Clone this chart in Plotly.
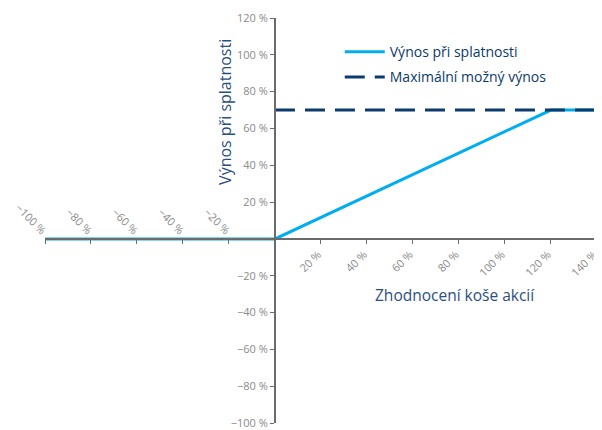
import plotly.graph_objects as go

# data
payoff_x = [-100, 0, 120, 140]
payoff_y = [0, 0, 70, 70]
cap_x = [0, 140]
cap_y = [70, 70]
x_range = [-100, 140.05]
y_range = [-100, 120]
x_pos_ticks = [20, 40, 60, 80, 100, 120, 140]
x_pos_labels = ["20 %", "40 %", "60 %", "80 %", "100 %", "120 %", "140 %"]
x_neg_ticks = [-100, -80, -60, -40, -20]
x_neg_labels = ["\u2212100 %", "\u221280 %", "\u221260 %", "\u221240 %", "\u221220 %"]
y_ticks = [-100, -80, -60, -40, -20, 20, 40, 60, 80, 100, 120]
y_labels = ["\u2212100 %", "\u221280 %", "\u221260 %", "\u221240 %", "\u221220 %",
            "20 %", "40 %", "60 %", "80 %", "100 %", "120 %"]

LIGHT = "#00AEEF"
DARK = "#0B3A6B"
TITLE = "#2B4F81"
GRAY = "#6b6b6b"
TICKFONT = dict(family="Open Sans", size=11, color="#8a8a8a")

fig = go.Figure()
fig.add_trace(go.Scatter(x=payoff_x, y=payoff_y, mode="lines", name="Výnos při splatnosti",
                         legendgroup="a",
                         line=dict(color=LIGHT, width=3)))
fig.add_trace(go.Scatter(x=cap_x, y=cap_y, mode="lines", name="Maximální možný výnos",
                         legendgroup="b",
                         line=dict(color=DARK, width=3, dash="20px,10px")))

x0_frac = (0 - x_range[0]) / (x_range[1] - x_range[0])
y0_frac = (0 - y_range[0]) / (y_range[1] - y_range[0])

fig.update_layout(
    width=594, height=422,
    margin=dict(l=37, r=5, t=10, b=7, autoexpand=False),
    plot_bgcolor="white", paper_bgcolor="white",
    font=dict(family="Open Sans", color=TITLE),
    showlegend=True,
    legend=dict(x=0.534, y=0.955, xanchor="left", yanchor="top",
                font=dict(size=14, color=DARK), bgcolor="rgba(0,0,0,0)",
                tracegroupgap=4, itemwidth=40),
    xaxis=dict(range=x_range, anchor="free", position=y0_frac, automargin=False,
               showgrid=False, zeroline=False, showline=True, linecolor=GRAY, linewidth=2,
               ticks="outside", ticklen=4, tickcolor=GRAY, tickwidth=1,
               tickvals=x_neg_ticks + x_pos_ticks,
               ticktext=[""] * len(x_neg_ticks) + x_pos_labels,
               tickangle=-45, tickfont=TICKFONT, ticklabeloverflow="allow",
               ticklabelshift=-3),
    xaxis2=dict(range=x_range, overlaying="x", anchor="free", position=y0_frac, side="top",
                automargin=False,
                showgrid=False, zeroline=False, showline=False, ticks="",
                tickvals=x_neg_ticks, ticktext=x_neg_labels,
                tickangle=45, tickfont=TICKFONT, ticklabeloverflow="allow"),
    yaxis=dict(range=y_range, anchor="free", position=x0_frac, automargin=False,
               showgrid=False, zeroline=False, showline=True, linecolor=GRAY, linewidth=2,
               ticks="outside", ticklen=4, tickcolor=GRAY, tickwidth=1,
               tickvals=y_ticks, ticktext=y_labels, tickfont=TICKFONT,
               ticklabeloverflow="allow"),
)
fig.add_trace(go.Scatter(x=[x_range[0]], y=[0], xaxis="x2", mode="markers",
                         marker=dict(opacity=0), showlegend=False, hoverinfo="skip"))

fig.add_annotation(text="Výnos při splatnosti", xref="paper", yref="paper",
                   x=0.326, y=0.768, xanchor="center", yanchor="middle",
                   textangle=-90, showarrow=False,
                   font=dict(size=16, color=TITLE))
fig.add_annotation(text="Zhodnocení koše akcií", xref="paper", yref="paper",
                   x=0.742, y=0.316, xanchor="center", yanchor="middle",
                   showarrow=False,
                   font=dict(size=15.5, color=TITLE))

fig.write_html("out.html")
